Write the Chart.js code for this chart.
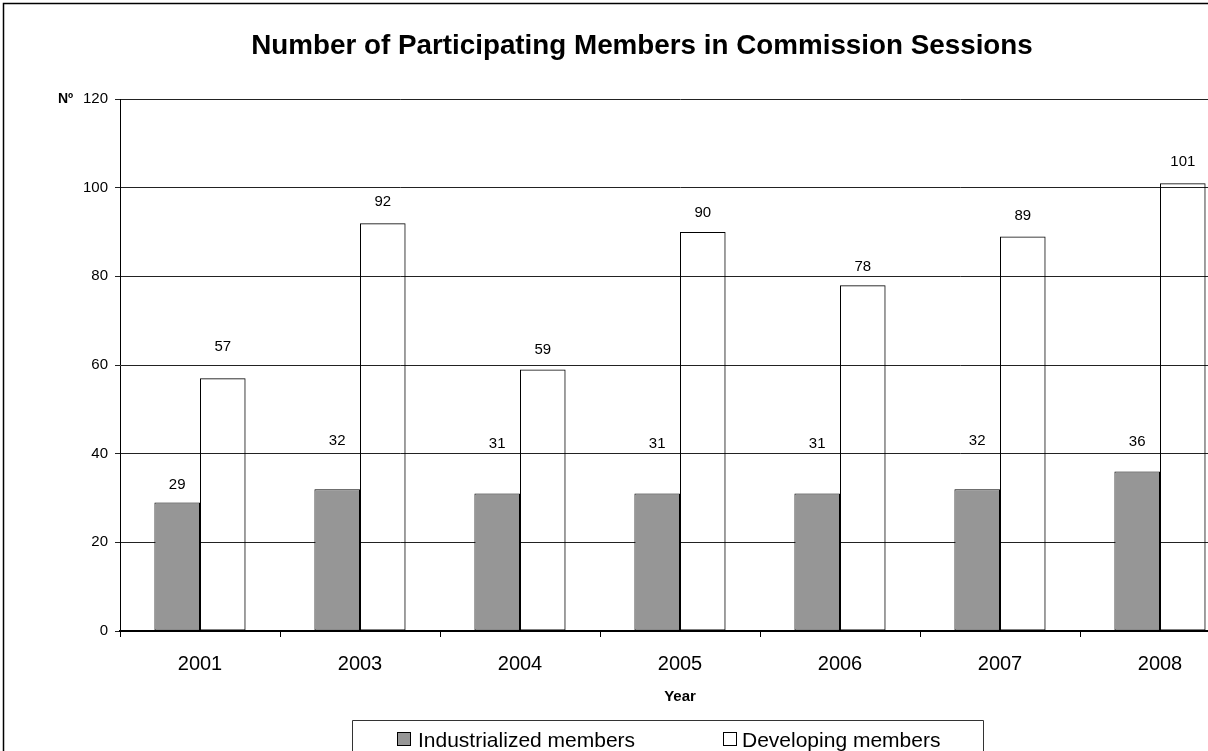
<!DOCTYPE html>
<html>
<head>
<meta charset="utf-8">
<script src="https://cdn.jsdelivr.net/npm/chart.js@4"></script>
<style>
  html, body { margin: 0; padding: 0; overflow: hidden; background: #fff; }
  #wrap { position: absolute; left: 0; top: 0; width: 1260px; height: 800px; }
</style>
</head>
<body>
<div id="wrap"><canvas id="c" width="1260" height="800"></canvas></div>
<script>
// ---- data ----
const years = ['2001', '2003', '2004', '2005', '2006', '2007', '2008'];
const industrialized = [29, 32, 31, 31, 31, 32, 36];
const developing = [57, 92, 59, 90, 78, 89, 101];
const seriesNames = ['Industrialized members', 'Developing members'];
const yTicks = [0, 20, 40, 60, 80, 100, 120];
const chartTitle = 'Number of Participating Members in Commission Sessions';
const xTitle = 'Year';
const yTitle = 'Nº';

// label placement (pixels above each bar's top, as placed in the original)
const labelLift = [
  [18, 48, 50, 50, 50, 48, 30],
  [31, 21, 20, 19, 18, 21, 21]
];

const FONT = '"Liberation Sans", Arial, sans-serif';
const GREY = '#969696';

const decor = {
  id: 'decor',
  afterDraw(chart) {
    const ctx = chart.ctx;
    const area = chart.chartArea;
    ctx.save();
    // outer border
    ctx.strokeStyle = '#000';
    ctx.lineWidth = 1.5;
    ctx.strokeRect(3.5, 3.5, chart.width + 20, chart.height + 20);

    // title
    ctx.fillStyle = '#000';
    ctx.font = 'bold 27.8px ' + FONT;
    ctx.textAlign = 'center';
    ctx.textBaseline = 'alphabetic';
    ctx.fillText(chartTitle, 642, 54);

    // y unit label
    ctx.font = 'bold 14px ' + FONT;
    ctx.textAlign = 'left';
    ctx.textBaseline = 'middle';
    ctx.fillText(yTitle, 58, area.top);

    // x title
    ctx.font = 'bold 15px ' + FONT;
    ctx.textAlign = 'center';
    ctx.fillText(xTitle, (area.left + area.right) / 2, 697);

    // data labels
    ctx.font = '15px ' + FONT;
    ctx.textAlign = 'center';
    ctx.textBaseline = 'middle';
    chart.data.datasets.forEach((ds, di) => {
      const meta = chart.getDatasetMeta(di);
      meta.data.forEach((bar, i) => {
        ctx.fillText(String(ds.data[i]), bar.x, bar.y - labelLift[di][i]);
      });
    });

    // legend
    ctx.strokeStyle = '#333';
    ctx.lineWidth = 1;
    ctx.beginPath();
    ctx.moveTo(352.5, chart.height + 5);
    ctx.lineTo(352.5, 720.5);
    ctx.lineTo(983.5, 720.5);
    ctx.lineTo(983.5, chart.height + 5);
    ctx.stroke();

    const items = [
      { fill: GREY, sx: 397.5, tx: 418 },
      { fill: '#fff', sx: 723.5, tx: 742 }
    ];
    ctx.font = '21px ' + FONT;
    ctx.textAlign = 'left';
    ctx.textBaseline = 'alphabetic';
    items.forEach((it, k) => {
      ctx.fillStyle = it.fill;
      ctx.fillRect(it.sx, 732.5, 13, 13);
      ctx.strokeStyle = '#000';
      ctx.strokeRect(it.sx, 732.5, 13, 13);
      ctx.fillStyle = '#000';
      ctx.fillText(seriesNames[k], it.tx, 747);
    });
    ctx.restore();
  }
};

new Chart(document.getElementById('c'), {
  type: 'bar',
  data: {
    labels: years,
    datasets: [
      {
        label: seriesNames[0],
        data: industrialized,
        backgroundColor: GREY,
        borderColor: '#000',
        borderWidth: 1,
        borderSkipped: false,
        categoryPercentage: 0.57,
        barPercentage: 1.0
      },
      {
        label: seriesNames[1],
        data: developing,
        backgroundColor: 'rgba(255,255,255,0)',
        borderColor: '#000',
        borderWidth: 1,
        borderSkipped: false,
        categoryPercentage: 0.57,
        barPercentage: 1.0
      }
    ]
  },
  options: {
    responsive: false,
    animation: false,
    devicePixelRatio: 1,
    layout: { padding: { left: 0, right: 20, top: 99, bottom: 0 } },
    plugins: {
      legend: { display: false },
      title: { display: false },
      tooltip: { enabled: false }
    },
    scales: {
      x: {
        offset: true,
        grid: { display: true, drawOnChartArea: false, drawTicks: true, tickLength: 6, color: '#000', offset: true },
        border: { display: true, color: '#000', width: 2 },
        ticks: { color: '#000', font: { family: FONT, size: 20 }, padding: 15 },
        afterFit(scale) { scale.height = 169; }
      },
      y: {
        min: 0,
        max: 120,
        afterBuildTicks(scale) { scale.ticks = yTicks.map(v => ({ value: v })); },
        grid: { color: '#222', lineWidth: 1, tickLength: 5, drawTicks: true },
        border: { display: true, color: '#000', width: 1 },
        ticks: { color: '#000', font: { family: FONT, size: 15 }, padding: 7 },
        afterFit(scale) { scale.width = 120; }
      }
    }
  },
  plugins: [decor]
});
</script>
</body>
</html>
